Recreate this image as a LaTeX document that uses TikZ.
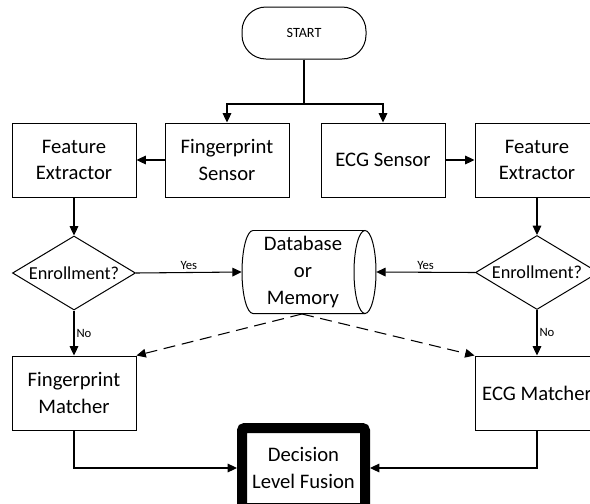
\documentclass[tikz,border=0pt]{standalone}
\usepackage{fontspec}
\setmainfont{Carlito}
\usetikzlibrary{shapes.geometric,arrows.meta}

\begin{document}
\begin{tikzpicture}[x=0.75pt,y=-0.75pt,
  mainfont/.style={font=\fontsize{15.5}{20}\selectfont},
  box/.style={draw, line width=0.75pt, minimum width=93pt, minimum height=55.5pt,
    align=center, inner sep=0pt, mainfont},
  terminal/.style={draw, line width=0.75pt, rounded corners=18pt, minimum width=93pt,
    minimum height=39pt, inner sep=0pt, font=\fontsize{10.6}{12}\selectfont},
  decision/.style={draw, diamond, aspect=1.66, line width=0.75pt, minimum width=92.25pt,
    minimum height=55.5pt, inner sep=0pt, font=\fontsize{13.7}{16}\selectfont},
  fusion/.style={draw, line width=7.5pt, rounded corners=2pt, minimum width=92.25pt,
    minimum height=60pt, align=center, inner sep=0pt, mainfont},
  arr/.style={line width=0.8pt, -{Triangle[length=7pt,width=6.5pt]}},
  link/.style={line width=0.8pt},
  dasharr/.style={arr, dash pattern=on 9pt off 5pt},
  tag/.style={font=\fontsize{9.5}{11}\selectfont, inner sep=1.5pt}]

\useasboundingbox (0,0) rectangle (590,504);

% start and sensors
\node[terminal] (start) at (304,33) {START};
\coordinate (split) at (304,104);
\node[box] (fs) at (227,160) {Fingerprint\\Sensor};
\node[box] (ecg) at (383,160) {ECG Sensor};
\node[box] (fe1) at (74,160) {Feature\\Extractor};
\node[box] (fe2) at (537,160) {Feature\\Extractor};

% enrollment decisions
\node[decision] (d1) at (74,273) {Enrollment?};
\node[decision] (d2) at (537,272.5) {Enrollment?};

% database drawn as a horizontal cylinder
\node[minimum width=100.5pt, minimum height=62.25pt, inner sep=0pt] (db) at (309,272) {};
\draw[line width=0.75pt] (253,230.5) arc[start angle=90, end angle=270, x radius=8.25pt, y radius=31.125pt]
  -- (365,313.5);
\draw[line width=0.75pt] (253,230.5) -- (365,230.5);
\draw[line width=0.75pt] (365,272) ellipse[x radius=8.25pt, y radius=31.125pt];
\node[align=center, inner sep=0pt, mainfont] (dbtext) at (303,272) {Database\\or\\Memory};
\coordinate (dbout) at (302,314);

% matchers and fusion
\node[box] (fm) at (74,393) {Fingerprint\\Matcher};
\node[box] (em) at (537,393) {ECG Matcher};
\node[fusion] (dec) at (303.5,468) {Decision\\Level Fusion};

% connectors
\draw[link] (start) -- (split);
\draw[arr] (split) -| (fs.north);
\draw[arr] (split) -| (ecg.north);
\draw[arr] (fs) -- (fe1);
\draw[arr] (ecg) -- (fe2);
\draw[arr] (fe1) -- (d1);
\draw[arr] (fe2) -- (d2);
\draw[arr] (d1.east) -- node[tag, above] {Yes} (db.west);
\draw[arr] (d2.west) -- node[tag, above] {Yes} (db.east);
\draw[arr] (d1.south) -- node[tag, right] {No} (fm.north);
\draw[arr] (d2.south) -- node[tag, right] {No} (em.north);
\draw[dasharr] (dbout) -- (fm.north east);
\draw[dasharr] (dbout) -- (em.north west);
\draw[arr] (fm.south) |- (dec.west);
\draw[arr] (em.south) |- (dec.east);

\end{tikzpicture}
\end{document}
